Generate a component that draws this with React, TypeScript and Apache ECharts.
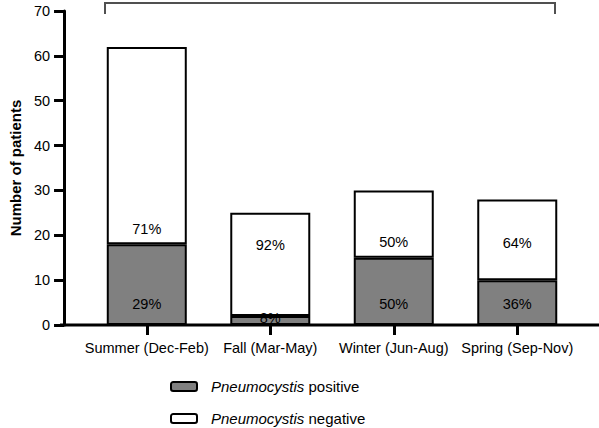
import React, { useEffect, useRef } from "react";
import * as echarts from "echarts";

const categories = ["Summer (Dec-Feb)", "Fall (Mar-May)", "Winter (Jun-Aug)", "Spring (Sep-Nov)"];
const positive = [18, 2, 15, 10];
const negative = [44, 23, 15, 18];
const yTicks = { min: 0, max: 70, interval: 10 };
const seriesNames = ["Pneumocystis positive", "Pneumocystis negative"];

// label distances from the bottom of each segment (style only)
const posLabelDist = [14, 0, 14, 14];
const negLabelDist = [8, 64, 8, 30];

const FONT = "'Liberation Sans', Arial, Helvetica, sans-serif";

export default function App() {
  const ref = useRef<HTMLDivElement>(null);
  useEffect(() => {
    if (!ref.current) return;
    const chart = echarts.init(ref.current, undefined, { renderer: "svg" });
    const pct = (i: number, v: number) => {
      const total = positive[i] + negative[i];
      return Math.round((v / total) * 100) + "%";
    };
    const legendBase = {
      orient: "vertical",
      left: 170,
      itemWidth: 26,
      itemHeight: 9,
      padding: 0,
      formatter: (name: string) => {
        const parts = name.split(" ");
        return "{i|" + parts[0] + "}{n| " + parts.slice(1).join(" ") + "}";
      },
      textStyle: {
        fontFamily: FONT,
        rich: {
          i: { fontStyle: "italic", fontSize: 15, color: "#000", fontFamily: FONT, padding: [0, 0, 0, 9] },
          n: { fontSize: 15, color: "#000", fontFamily: FONT },
        },
      },
    };
    chart.setOption({
      animation: false,
      textStyle: { fontFamily: FONT },
      grid: { left: 82, right: 20, top: 11, bottom: 103 },
      xAxis: {
        type: "category",
        data: categories,
        axisLine: { show: false },
        axisTick: { show: true, alignWithLabel: true, length: 10, lineStyle: { color: "#000", width: 3 } },
        axisLabel: { color: "#000", fontSize: 14.5, margin: 15, interval: 0, fontFamily: FONT },
      },
      yAxis: {
        type: "value",
        min: yTicks.min,
        max: yTicks.max,
        interval: yTicks.interval,
        offset: 21,
        name: "Number of patients",
        nameLocation: "middle",
        nameGap: 40,
        nameTextStyle: { color: "#000", fontSize: 15, fontWeight: "bold", fontFamily: FONT },
        axisLine: { show: true, lineStyle: { color: "#000", width: 3 } },
        axisTick: { show: true, length: 10, lineStyle: { color: "#000", width: 3 } },
        axisLabel: { color: "#000", fontSize: 14.5, margin: 14, fontFamily: FONT },
        splitLine: { show: false },
      },
      legend: [
        { ...legendBase, top: 379, data: [seriesNames[0]] },
        { ...legendBase, top: 411, data: [seriesNames[1]] },
      ],
      series: [
        {
          name: seriesNames[0],
          type: "bar",
          stack: "total",
          barWidth: 80,
          itemStyle: { color: "#808080", borderColor: "#000", borderWidth: 2 },
          data: positive.map((v, i) => ({
            value: v,
            label: {
              show: true,
              position: "insideBottom",
              distance: posLabelDist[i],
              formatter: () => pct(i, v),
              color: "#000",
              fontSize: 14.5,
              fontFamily: FONT,
            },
          })),
        },
        {
          name: seriesNames[1],
          type: "bar",
          stack: "total",
          barWidth: 80,
          itemStyle: { color: "#fff", borderColor: "#000", borderWidth: 2 },
          data: negative.map((v, i) => ({
            value: v,
            label: {
              show: true,
              position: "insideBottom",
              distance: negLabelDist[i],
              formatter: () => pct(i, v),
              color: "#000",
              fontSize: 14.5,
              fontFamily: FONT,
            },
          })),
        },
      ],
      graphic: [
        {
          type: "line",
          shape: { x1: 60, y1: 325, x2: 599, y2: 325 },
          style: { stroke: "#000", lineWidth: 3 },
          z: 100,
        },
        {
          type: "polyline",
          shape: { points: [[105, 14], [105, 3], [555, 3], [555, 14]] },
          style: { stroke: "#505050", lineWidth: 2, fill: "none" },
        },
      ],
    });
    return () => chart.dispose();
  }, []);
  return <div ref={ref} style={{ width: 599, height: 428, position: "absolute", left: 0, top: 0 }} />;
}
